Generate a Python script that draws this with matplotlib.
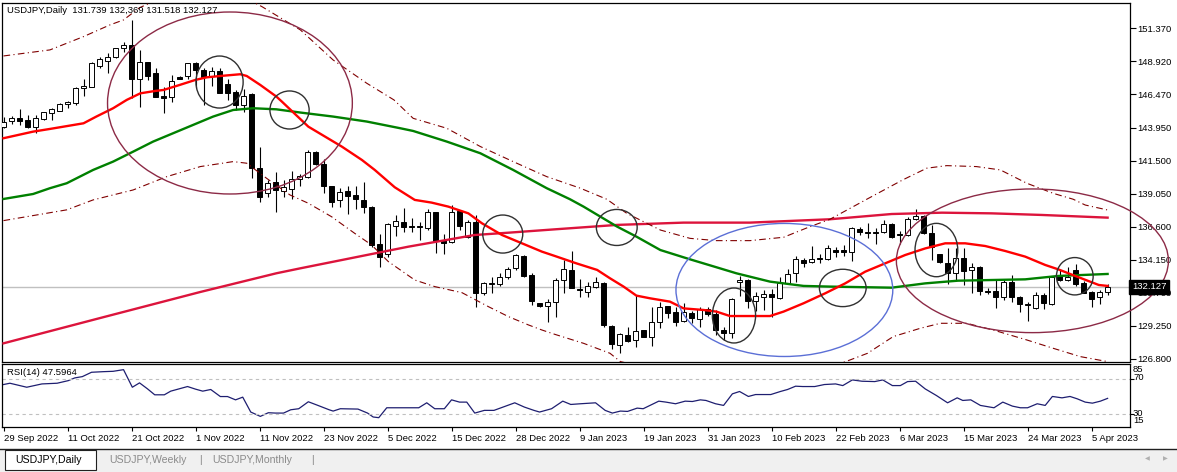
import matplotlib.pyplot as plt
from matplotlib.patches import Ellipse, Rectangle
from matplotlib.lines import Line2D
from matplotlib.transforms import blended_transform_factory
import numpy as np

plt.rcParams['font.family'] = ['Liberation Sans', 'DejaVu Sans']

# daily candles, 29 Sep 2022 .. 7 Apr 2023
opens = [144.00, 144.48, 144.70, 144.55, 144.05, 144.60, 145.05, 145.24, 145.74, 145.84,
         146.91, 147.03, 148.57, 148.96, 149.21, 149.88, 150.13, 147.63, 148.84, 148.02,
         146.31, 146.24, 147.77, 147.82, 148.82, 148.27, 147.82, 148.22, 147.20, 146.63,
         145.67, 146.49, 140.95, 139.14, 139.91, 139.27, 139.39, 140.18, 140.33, 142.19,
         141.25, 139.64, 138.60, 139.27, 138.97, 138.60, 138.10, 135.30, 134.55, 136.66,
         136.93, 136.66, 136.66, 136.51, 137.68, 135.62, 135.50, 137.78, 135.87, 136.93,
         131.65, 132.35, 132.32, 132.89, 133.51, 134.43, 133.02, 130.91, 130.71, 131.03,
         132.64, 133.39, 131.97, 131.73, 132.10, 132.39, 129.22, 127.81, 128.55, 128.18,
         128.90, 128.43, 129.49, 130.71, 130.26, 129.59, 130.21, 129.72, 130.46, 130.09,
         128.92, 128.68, 132.47, 132.64, 131.08, 131.35, 131.60, 131.28, 132.39, 133.14,
         134.13, 133.98, 134.25, 134.18, 134.85, 134.87, 134.70, 136.44, 136.24, 136.24,
         136.19, 136.81, 136.07, 135.99, 137.16, 137.40, 136.16, 134.58, 133.88, 133.19,
         134.25, 133.36, 133.59, 131.82, 131.82, 131.35, 132.52, 131.35, 130.86, 130.53,
         131.53, 130.83, 132.94, 132.64, 133.39, 132.39, 131.75, 131.35, 131.739]
highs = [144.80, 144.87, 145.37, 144.92, 144.92, 145.17, 145.47, 145.79, 145.99, 146.98,
         147.63, 148.89, 149.21, 149.51, 149.88, 150.38, 151.99, 149.76, 148.89, 148.39,
         146.98, 147.90, 147.82, 148.82, 148.87, 148.39, 148.52, 148.39, 147.60, 146.78,
         146.83, 146.53, 142.57, 140.09, 140.66, 140.08, 140.78, 140.53, 142.32, 142.27,
         141.62, 139.64, 139.46, 139.64, 139.64, 139.96, 138.15, 136.07, 136.86, 137.48,
         137.98, 137.23, 136.98, 137.90, 137.73, 136.07, 138.22, 137.80, 137.11, 137.48,
         132.52, 132.89, 133.14, 133.64, 134.58, 134.48, 133.14, 130.96, 131.25, 132.77,
         134.13, 134.80, 132.69, 132.47, 132.89, 132.47, 129.27, 128.68, 129.17, 131.53,
         128.92, 130.61, 131.03, 130.73, 130.66, 130.91, 130.34, 130.66, 130.66, 130.41,
         129.17, 131.28, 132.94, 132.69, 131.77, 131.90, 131.95, 132.89, 133.44, 134.43,
         134.25, 135.17, 134.55, 135.25, 135.07, 135.25, 136.61, 136.61, 136.91, 136.54,
         137.11, 136.86, 136.31, 137.30, 137.90, 137.48, 136.73, 134.60, 135.00, 135.00,
         135.00, 133.88, 133.68, 132.02, 132.64, 132.64, 133.01, 131.45, 131.03, 131.77,
         131.65, 132.89, 133.39, 133.59, 133.83, 132.59, 131.85, 131.90, 132.369]
lows = [143.93, 144.25, 144.18, 143.93, 143.56, 144.55, 144.55, 145.22, 145.42, 145.67,
        146.34, 146.98, 148.39, 148.07, 149.14, 149.63, 146.16, 145.49, 147.53, 146.24,
        145.10, 145.91, 147.58, 147.58, 146.91, 145.67, 147.08, 146.53, 146.04, 145.29,
        145.17, 140.21, 138.48, 138.80, 137.68, 138.84, 138.65, 139.64, 140.21, 141.20,
        139.14, 138.05, 138.05, 137.53, 137.90, 137.65, 135.12, 133.64, 134.38, 135.92,
        136.24, 136.24, 135.62, 136.36, 134.68, 134.55, 135.37, 136.36, 135.74, 130.61,
        131.53, 131.65, 132.20, 132.69, 133.39, 132.89, 130.79, 130.61, 129.54, 129.92,
        131.70, 132.02, 131.35, 131.40, 132.07, 129.17, 127.48, 127.24, 128.06, 127.63,
        128.38, 127.76, 129.05, 129.79, 129.25, 129.54, 129.47, 129.17, 129.99, 128.55,
        128.18, 128.35, 131.45, 130.53, 130.36, 130.41, 129.92, 131.25, 132.35, 132.52,
        133.59, 133.93, 133.93, 134.13, 134.38, 134.43, 134.08, 135.99, 135.74, 135.30,
        136.11, 135.74, 135.32, 135.92, 137.11, 136.07, 134.13, 133.93, 132.35, 132.64,
        132.27, 131.70, 131.53, 131.60, 130.53, 131.15, 131.03, 130.29, 129.62, 130.48,
        130.48, 130.78, 132.59, 132.57, 132.20, 131.65, 130.61, 130.83, 131.518]
closes = [144.43, 144.72, 144.50, 144.05, 144.68, 145.12, 145.34, 145.72, 145.86, 146.91,
          147.10, 148.77, 149.06, 149.21, 149.88, 150.13, 147.63, 148.89, 147.85, 146.29,
          146.21, 147.48, 147.63, 148.82, 148.27, 147.77, 148.20, 146.58, 146.58, 145.67,
          146.36, 140.95, 138.80, 139.84, 139.34, 139.54, 140.13, 140.36, 142.19, 141.25,
          139.64, 138.47, 139.17, 138.92, 138.64, 138.05, 135.25, 134.33, 136.81, 137.03,
          136.61, 136.59, 136.56, 137.68, 135.57, 135.42, 137.73, 136.69, 136.93, 131.65,
          132.40, 132.42, 132.84, 133.44, 134.50, 132.97, 131.11, 130.71, 131.01, 132.64,
          133.44, 132.07, 131.87, 132.22, 132.47, 129.27, 127.86, 128.60, 128.13, 128.87,
          128.43, 129.54, 130.66, 130.16, 129.54, 130.29, 129.84, 130.46, 130.09, 128.92,
          128.68, 131.20, 132.64, 131.10, 131.45, 131.58, 131.40, 132.39, 133.06, 134.18,
          133.88, 134.21, 134.21, 134.99, 134.73, 134.70, 136.49, 136.24, 136.17, 136.11,
          136.78, 135.82, 135.97, 137.16, 137.40, 136.11, 135.12, 133.96, 133.19, 134.25,
          133.34, 133.59, 131.85, 131.75, 131.35, 132.52, 131.35, 130.83, 130.76, 131.53,
          130.91, 132.84, 132.64, 132.89, 132.35, 131.70, 131.25, 131.73, 132.127]

date_labels = ['29 Sep 2022', '11 Oct 2022', '21 Oct 2022', '1 Nov 2022', '11 Nov 2022',
               '23 Nov 2022', '5 Dec 2022', '15 Dec 2022', '28 Dec 2022', '9 Jan 2023',
               '19 Jan 2023', '31 Jan 2023', '10 Feb 2023', '22 Feb 2023', '6 Mar 2023',
               '15 Mar 2023', '24 Mar 2023', '5 Apr 2023']

# indicator lines (bar index, value)
ma20_bar = [0, 3.7, 5.8, 10, 11.6, 13.7, 15.4, 17.1, 19, 20, 22, 24, 25.4, 27.1, 29.6, 30.4,
            32.1, 34.1, 34.8, 38.1, 42.3, 44.8, 46.4, 48.9, 51.4, 53.5, 55.6, 58.1, 59.8, 62.3,
            64.8, 67.3, 68.9, 71.6, 74.2, 75.8, 77.5, 79.1, 80.8, 83.3, 85, 87.5, 89.1, 90.8,
            95.8, 97.5, 100, 102.7, 105.2, 107.7, 110.2, 112.7, 115.2, 117.7, 120.2, 122.7,
            125.2, 127.7, 130.2, 131.8, 134.4, 136.9, 138]
ma20 = [143.19, 143.68, 143.88, 144.30, 144.80, 145.42, 146.04, 146.53, 146.71, 146.78,
        147.15, 147.53, 147.72, 147.82, 147.95, 147.82, 147.15, 146.29, 145.91, 144.05,
        142.56, 141.57, 140.83, 139.54, 138.60, 138.40, 138.10, 137.60, 136.86, 135.99,
        135.37, 134.75, 134.43, 133.88, 133.39, 132.77, 132.15, 131.48, 131.28, 131.03,
        130.53, 130.41, 130.29, 129.96, 129.96, 130.29, 130.91, 131.65, 132.39, 133.26,
        133.88, 134.50, 134.99, 135.37, 135.37, 135.17, 134.80, 134.38, 133.76, 133.44,
        132.84, 132.27, 132.20]

ma50_bar = [0, 3.7, 5.8, 7.9, 11.2, 13.7, 16.2, 18.7, 21.2, 23.7, 26.2, 28.7, 31.2, 34.1,
            37.1, 41.2, 45.4, 49.6, 51.2, 55.4, 59.6, 63.7, 67.9, 70.8, 72.5, 76.7, 79.1,
            82.1, 85.8, 89.1, 91.6, 95.8, 100, 103.3, 111, 115.2, 119.3, 123.5, 127.7, 131.8, 138]
ma50 = [138.67, 139.04, 139.47, 139.84, 140.83, 141.45, 142.19, 142.94, 143.56, 144.18,
        144.80, 145.29, 145.42, 145.34, 145.10, 144.80, 144.43, 143.93, 143.73, 142.94,
        142.07, 140.83, 139.47, 138.65, 138.10, 136.61, 135.87, 134.87, 134.18, 133.59,
        133.14, 132.52, 132.20, 132.15, 132.07, 132.39, 132.59, 132.64, 132.69, 132.94, 133.09]

ma200_bar = [0, 12, 24.6, 34.1, 37.1, 42.3, 45.4, 50.6, 58.9, 63.1, 68.9, 76.7, 85, 93.3,
             103.3, 111, 117.3, 123.5, 129.8, 138]
ma200 = [127.93, 129.80, 131.75, 133.14, 133.51, 134.13, 134.50, 135.12, 135.99, 136.16,
         136.41, 136.74, 136.91, 136.91, 137.16, 137.55, 137.65, 137.60, 137.48, 137.28]

upper_bar = [0, 5.8, 10, 13.3, 15, 17, 20, 25, 29, 32.3, 37.1, 41.2, 45.4, 48.8, 51.2, 55.4,
             59.6, 63.7, 67.9, 72.1, 75.4, 77.9, 82.1, 85.8, 89.1, 93.3, 97.5, 100.8, 103.3,
             107.9, 112.4, 115.4, 117.9, 121.6, 124.6, 127.9, 131.2, 133.7, 135.2, 138]
upper = [149.31, 149.76, 150.75, 151.62, 151.99, 152.90, 153.70, 154.20, 154.00, 152.98,
         151.25, 149.01, 147.28, 146.04, 144.67, 143.93, 142.57, 141.45, 140.33, 139.47,
         138.65, 137.60, 136.36, 135.74, 135.57, 135.57, 135.82, 136.61, 137.16, 138.65,
         140.09, 140.96, 141.15, 141.08, 140.83, 139.84, 139.09, 138.65, 138.22, 137.85]

lower_bar = [0, 7.9, 11.2, 16.2, 20.4, 24.6, 28.7, 30.4, 32.9, 35.8, 38.1, 41, 43.9, 46, 48.1,
             51.4, 53.9, 57.3, 60.6, 63.1, 65.6, 67.3, 68.9, 72.5, 75.8, 77.1, 82, 90, 98,
             103, 105.8, 108, 111.2, 114.6, 117.1, 120.4, 123.7, 127.9, 131.2, 134.6, 138]
lower = [137.06, 137.86, 138.60, 139.34, 140.33, 141.08, 141.45, 141.33, 140.20, 138.97,
         138.35, 137.35, 136.11, 135.25, 134.01, 132.64, 132.15, 131.70, 130.66, 129.92,
         129.30, 128.92, 128.60, 127.93, 127.19, 126.57, 125.90, 125.60, 125.70, 126.10,
         126.69, 127.19, 128.43, 129.05, 129.42, 129.42, 128.92, 128.18, 127.56, 126.94, 126.57]

rsi_bar = [0, 0.8, 2.9, 4.8, 6.7, 8.1, 8.9, 9.85, 11.0, 12.5, 13.7, 15.0, 16.1, 17.0, 18.0,
           18.9, 20.1, 20.9, 23.0, 24.0, 24.9, 25.9, 27.1, 28.0, 29.0, 29.9, 30.9, 32.1, 33.1,
           34.0, 35.0, 35.9, 36.9, 38.1, 39.3, 40.7, 41.2, 42.1, 44.3, 45.5, 46.2, 46.9, 47.9,
           51.9, 52.9, 53.9, 55.1, 56.0, 57.0, 57.9, 58.9, 60.1, 61.3, 63.9, 65.1, 66.3, 67.0,
           68.5, 69.9, 70.9, 72.1, 74.0, 75.2, 76.1, 77.1, 78.0, 79.2, 79.95, 81.9, 82.8, 84.0,
           85.2, 86.1, 87.1, 87.8, 89.0, 90.0, 91.1, 92.0, 93.1, 94.0, 95.9, 97.1, 98.0, 99.0,
           99.9, 101.4, 102.6, 104.0, 104.9, 106.1, 107.3, 108.9, 109.9, 111.1, 112.1, 113.0,
           114.0, 115.2, 116.6, 118.0, 119.2, 119.9, 120.9, 122.1, 123.8, 124.9, 126.1, 127.1,
           128.0, 129.2, 130.2, 131.1, 132.3, 133.3, 134.2, 135.2, 136.1, 137.1, 138]
rsi = [63.5, 65.0, 60.4, 64.2, 65.0, 68.0, 71.1, 72.6, 77.6, 78.3, 78.7, 80.6, 60.4, 65.4,
       58.5, 51.7, 51.7, 55.9, 61.2, 58.2, 55.9, 57.8, 49.7, 49.7, 45.9, 49.0, 31.9, 26.9,
       31.1, 30.7, 30.7, 34.5, 35.7, 43.7, 39.5, 34.5, 33.0, 35.7, 35.3, 30.7, 26.2, 25.4,
       36.8, 36.8, 42.5, 35.7, 35.7, 45.9, 43.3, 43.3, 30.7, 33.8, 33.8, 42.5, 37.6, 33.8,
       31.9, 35.7, 44.4, 40.6, 41.4, 42.5, 33.8, 30.7, 33.0, 32.6, 36.4, 35.7, 44.4, 43.3,
       41.4, 44.4, 44.0, 45.9, 45.2, 41.4, 39.5, 52.8, 55.5, 49.8, 52.0, 52.0, 55.5, 57.8,
       61.6, 61.2, 61.2, 63.5, 64.2, 62.3, 68.8, 67.3, 66.9, 68.8, 62.3, 62.3, 66.9, 67.3,
       58.5, 50.9, 42.5, 48.2, 45.2, 45.9, 39.5, 36.8, 43.3, 38.7, 36.8, 36.8, 41.4, 39.5,
       49.8, 48.2, 49.8, 47.1, 43.3, 42.1, 44.4, 47.6]

price_ticks = [151.370, 148.920, 146.470, 143.950, 141.500, 139.050, 136.600, 134.150,
               131.700, 129.250, 126.800]
last_price = 132.127

# drawn objects: centre bar, centre price, width (bars), height (price), colour
shapes = [(28.3, 145.81, 30.6, 13.54, '#8c2a46'),
          (27.0, 147.37, 5.9, 3.87, '#303030'),
          (35.75, 145.29, 4.9, 2.83, '#303030'),
          (62.4, 136.06, 5.0, 2.83, '#303030'),
          (76.65, 136.55, 5.1, 2.68, '#303030'),
          (97.6, 131.90, 27.1, 9.9, '#5b6fd6'),
          (91.3, 130.00, 5.4, 4.09, '#303030'),
          (104.9, 132.05, 5.84, 2.78, '#303030'),
          (128.6, 134.07, 34.0, 10.69, '#8c2a46'),
          (116.6, 134.87, 5.34, 3.97, '#303030'),
          (133.9, 132.92, 4.59, 2.78, '#303030')]

W, H = 1177, 472
fig = plt.figure(figsize=(W / 100, H / 100), dpi=100)


def box(l, t, r, b):
    return [l / W, 1 - b / H, (r - l) / W, (b - t) / H]


def fx(px):
    return px / W


def fy(py):
    return 1 - py / H


ax = fig.add_axes(box(2, 3, 1130, 362))
ax2 = fig.add_axes(box(2, 364, 1130, 427))
fs = 6.8

# candles
o = np.array(opens)
c = np.array(closes)
x = np.arange(len(c))
ax.vlines(x, lows, highs, color='black', lw=0.8, zorder=2)
bull = c >= o
ax.bar(x, np.abs(c - o), bottom=np.minimum(o, c), width=0.6,
       color=np.where(bull, 'white', 'black'), edgecolor='black', lw=0.7, zorder=3)

ax.axhline(last_price, color='#c0c0c0', lw=1, zorder=1)
ax.plot(ma200_bar, ma200, color='#dc143c', lw=1.7, zorder=4)
ax.plot(ma50_bar, ma50, color='#008000', lw=1.7, zorder=4)
ax.plot(ma20_bar, ma20, color='#ff0000', lw=1.7, zorder=4)
ax.plot(upper_bar, upper, color='#800000', lw=0.8, ls=(0, (6, 3, 1, 3)), zorder=4)
ax.plot(lower_bar, lower, color='#800000', lw=0.8, ls=(0, (6, 3, 1, 3)), zorder=4)

for cx, cy, w, h, col in shapes:
    e = Ellipse((cx, cy), w, h, fill=False, ec=col, lw=1, zorder=5)
    if w > 30:
        e.set_clip_on(False)
    ax.add_patch(e)

ax.set_xlim(-0.19, 140.8)
ax.set_ylim(126.54, 153.25)
ax.set_xticks([])
ax.yaxis.tick_right()
ax.set_yticks(price_ticks)
ax.set_yticklabels([f'{v:.3f}' for v in price_ticks])
ax.tick_params(axis='y', length=4, width=0.8, pad=1.5, labelsize=fs, colors='black')
for s in ax.spines.values():
    s.set_linewidth(0.9)

tr = blended_transform_factory(ax.transAxes, ax.transData)
ax.text(1.0016, last_price, '132.127', transform=tr, color='white', fontsize=fs,
        ha='left', va='center', zorder=10, clip_on=False,
        bbox=dict(boxstyle='square,pad=0.25', fc='black', ec='black'))

fig.text(fx(7), fy(10.5), 'USDJPY,Daily  131.739 132,369 131.518 132.127',
         fontsize=fs, va='center', ha='left')

# RSI panel
ax2.plot(rsi_bar, rsi, color='#1e1e70', lw=0.9)
for lvl in (70, 30):
    ax2.axhline(lvl, color='#c0c0c0', lw=0.8, ls=(0, (3, 3)))
ax2.set_xlim(-0.19, 140.8)
ax2.set_ylim(14.7, 87.1)
ax2.yaxis.tick_right()
ax2.set_yticks([70, 30])
ax2.set_yticklabels([])
ax2.tick_params(axis='y', length=3, width=0.8)
for s in ax2.spines.values():
    s.set_linewidth(0.9)
ax2.set_xticks(np.arange(len(date_labels)) * 8)
ax2.set_xticklabels(date_labels)
ax2.tick_params(axis='x', length=3, width=0.8, pad=2, labelsize=fs)
for lbl in ax2.get_xticklabels():
    lbl.set_ha('left')
for txt, py in (('85', 370), ('70', 378), ('30', 413.5), ('15', 420.5)):
    fig.text(fx(1133), fy(py), txt, fontsize=fs, va='center', ha='left')
fig.text(fx(7), fy(372.5), 'RSI(14) 47.5964', fontsize=fs, va='center', ha='left')

# tab bar
fig.add_artist(Rectangle((0, 0), 1, fy(449), transform=fig.transFigure,
                         fc='#f0f0f0', ec='none', zorder=0))
fig.add_artist(Line2D([0, 1], [fy(449), fy(449)], transform=fig.transFigure,
                      color='#202020', lw=1))
fig.add_artist(Rectangle((fx(5), fy(470)), fx(96) - fx(5), fy(450) - fy(470),
                         transform=fig.transFigure, fc='white', ec='#202020', lw=0.8))
fig.text(fx(15), fy(460), 'USDJPY,Daily', fontsize=7.6, va='center', ha='left')
fig.text(fx(109), fy(460), 'USDJPY,Weekly', fontsize=7.6, va='center', ha='left', color='#8a8a8a')
fig.text(fx(201), fy(460), '|', fontsize=7.6, va='center', ha='center', color='#8a8a8a')
fig.text(fx(212), fy(460), 'USDJPY,Monthly', fontsize=7.6, va='center', ha='left', color='#8a8a8a')
fig.text(fx(313), fy(460), '|', fontsize=7.6, va='center', ha='center', color='#8a8a8a')
fig.text(fx(1147), fy(459), '\u25c0', fontsize=4.5, va='center', ha='center', color='#b0b0b0',
         family='DejaVu Sans')
fig.text(fx(1165), fy(459), '\u25b6', fontsize=4.5, va='center', ha='center', color='#b0b0b0',
         family='DejaVu Sans')

fig.savefig('out.png', dpi=100)
